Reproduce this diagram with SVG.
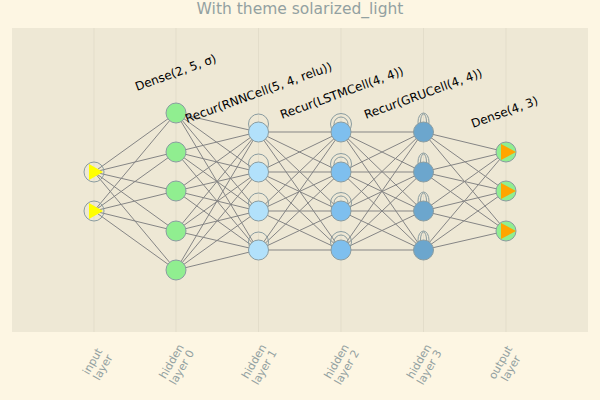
<svg xmlns="http://www.w3.org/2000/svg" width="600" height="400" viewBox="0 0 600 400">
<style>
text{font-family:"DejaVu Sans","Liberation Sans",sans-serif}
.title{font-size:15.5px;fill:#93a1a1;text-anchor:middle}
.tick{font-size:11px;fill:#93a1a1;text-anchor:middle}
.lbl{font-size:12px;fill:#000}
.grid{stroke:#e3ddca;stroke-width:1}
.edge{stroke:#858585;stroke-width:1;fill:none}
.node{stroke:#8a9ca0;stroke-width:1}
.loop{stroke:#8a9ca0;stroke-width:1;fill:none}
.in{fill:none}
.h0{fill:#90ee90}
.h1{fill:#b2e1fb}
.h2{fill:#7ebfee}
.h3{fill:#6ca6cd}
.out{fill:#90ee90}
.tri-in{fill:#ffff00}
.tri-out{fill:#ffa500}
</style>
<rect x="0" y="0" width="600" height="400" fill="#fdf6e3"/>
<rect x="12" y="28" width="576" height="304" fill="#eee8d5"/>
<g id="grid">
<line class="grid" x1="94" y1="28" x2="94" y2="332"/>
<line class="grid" x1="176" y1="28" x2="176" y2="332"/>
<line class="grid" x1="258.5" y1="28" x2="258.5" y2="332"/>
<line class="grid" x1="341" y1="28" x2="341" y2="332"/>
<line class="grid" x1="423.5" y1="28" x2="423.5" y2="332"/>
<line class="grid" x1="506" y1="28" x2="506" y2="332"/>
</g>
<text class="title" x="300" y="14">With theme solarized_light</text>
<g id="connectors">
<path class="edge" d="M94 172L176 113M94 172L176 152M94 172L176 191M94 172L176 231M94 172L176 270M94 211L176 113M94 211L176 152M94 211L176 191M94 211L176 231M94 211L176 270"/>
<path class="edge" d="M176 113L258 132M176 113L258 172M176 113L258 211M176 113L258 250M176 152L258 132M176 152L258 172M176 152L258 211M176 152L258 250M176 191L258 132M176 191L258 172M176 191L258 211M176 191L258 250M176 231L258 132M176 231L258 172M176 231L258 211M176 231L258 250M176 270L258 132M176 270L258 172M176 270L258 211M176 270L258 250"/>
<path class="edge" d="M258 132L341 132M258 132L341 172M258 132L341 211M258 132L341 250M258 172L341 132M258 172L341 172M258 172L341 211M258 172L341 250M258 211L341 132M258 211L341 172M258 211L341 211M258 211L341 250M258 250L341 132M258 250L341 172M258 250L341 211M258 250L341 250"/>
<path class="edge" d="M341 132L423 132M341 132L423 172M341 132L423 211M341 132L423 250M341 172L423 132M341 172L423 172M341 172L423 211M341 172L423 250M341 211L423 132M341 211L423 172M341 211L423 211M341 211L423 250M341 250L423 132M341 250L423 172M341 250L423 211M341 250L423 250"/>
<path class="edge" d="M423 132L506 152M423 132L506 191M423 132L506 231M423 172L506 152M423 172L506 191M423 172L506 231M423 211L506 152M423 211L506 191M423 211L506 231M423 250L506 152M423 250L506 191M423 250L506 231"/>
</g>
<g id="input-layer">
<g id="in1"><circle class="node in" cx="94" cy="172" r="10"/><polygon class="tri-in" points="89,164 89,180 103,172"/></g>
<g id="in2"><circle class="node in" cx="94" cy="211" r="10"/><polygon class="tri-in" points="89,203 89,219 103,211"/></g>
</g>
<g id="hidden-layer-0">
<circle id="h0n1" class="node h0" cx="176" cy="113" r="10"/>
<circle id="h0n2" class="node h0" cx="176" cy="152" r="10"/>
<circle id="h0n3" class="node h0" cx="176" cy="191" r="10"/>
<circle id="h0n4" class="node h0" cx="176" cy="231" r="10"/>
<circle id="h0n5" class="node h0" cx="176" cy="270" r="10"/>
</g>
<g id="hidden-layer-1">
<g id="h1n1"><circle class="loop" cx="258.5" cy="124" r="10"/><circle class="node h1" cx="258.5" cy="132" r="10"/></g>
<g id="h1n2"><circle class="loop" cx="258.5" cy="164" r="10"/><circle class="node h1" cx="258.5" cy="172" r="10"/></g>
<g id="h1n3"><circle class="loop" cx="258.5" cy="203" r="10"/><circle class="node h1" cx="258.5" cy="211" r="10"/></g>
<g id="h1n4"><circle class="loop" cx="258.5" cy="242" r="10"/><circle class="node h1" cx="258.5" cy="250" r="10"/></g>
</g>
<g id="hidden-layer-2">
<g id="h2n1"><circle class="loop" cx="341" cy="124" r="10.5"/><circle class="loop" cx="341" cy="124" r="7"/><circle class="node h2" cx="341" cy="132" r="10"/></g>
<g id="h2n2"><circle class="loop" cx="341" cy="164" r="10.5"/><circle class="loop" cx="341" cy="164" r="7"/><circle class="node h2" cx="341" cy="172" r="10"/></g>
<g id="h2n3"><circle class="loop" cx="341" cy="203" r="10.5"/><circle class="loop" cx="341" cy="203" r="7"/><circle class="node h2" cx="341" cy="211" r="10"/></g>
<g id="h2n4"><circle class="loop" cx="341" cy="242" r="10.5"/><circle class="loop" cx="341" cy="242" r="7"/><circle class="node h2" cx="341" cy="250" r="10"/></g>
</g>
<g id="hidden-layer-3">
<g id="h3n1"><ellipse class="loop" cx="423.5" cy="122" rx="5.5" ry="9"/><ellipse class="loop" cx="423.5" cy="122" rx="3" ry="8"/><circle class="node h3" cx="423.5" cy="132" r="10"/></g>
<g id="h3n2"><ellipse class="loop" cx="423.5" cy="162" rx="5.5" ry="9"/><ellipse class="loop" cx="423.5" cy="162" rx="3" ry="8"/><circle class="node h3" cx="423.5" cy="172" r="10"/></g>
<g id="h3n3"><ellipse class="loop" cx="423.5" cy="201" rx="5.5" ry="9"/><ellipse class="loop" cx="423.5" cy="201" rx="3" ry="8"/><circle class="node h3" cx="423.5" cy="211" r="10"/></g>
<g id="h3n4"><ellipse class="loop" cx="423.5" cy="240" rx="5.5" ry="9"/><ellipse class="loop" cx="423.5" cy="240" rx="3" ry="8"/><circle class="node h3" cx="423.5" cy="250" r="10"/></g>
</g>
<g id="output-layer">
<g id="out1"><circle class="node out" cx="506" cy="152" r="10"/><polygon class="tri-out" points="501,144 501,160 516,152"/></g>
<g id="out2"><circle class="node out" cx="506" cy="191" r="10"/><polygon class="tri-out" points="501,183 501,199 516,191"/></g>
<g id="out3"><circle class="node out" cx="506" cy="231" r="10"/><polygon class="tri-out" points="501,223 501,239 516,231"/></g>
</g>
<g id="layer-labels">
<text class="lbl" transform="translate(137,91) rotate(-20)">Dense(2, 5, σ)</text>
<text class="lbl" transform="translate(187,123) rotate(-20)">Recur(RNNCell(5, 4, relu))</text>
<text class="lbl" transform="translate(282,119) rotate(-20)">Recur(LSTMCell(4, 4))</text>
<text class="lbl" transform="translate(366,119) rotate(-20)">Recur(GRUCell(4, 4))</text>
<text class="lbl" transform="translate(473,128) rotate(-20)">Dense(4, 3)</text>
</g>
<g id="tick-labels">
<g transform="translate(97,364) rotate(-60)"><text class="tick" y="-1.5">input</text><text class="tick" y="10.5">layer</text></g>
<g transform="translate(176,364) rotate(-60)"><text class="tick" y="-1.5">hidden</text><text class="tick" y="10.5">layer 0</text></g>
<g transform="translate(258.5,364) rotate(-60)"><text class="tick" y="-1.5">hidden</text><text class="tick" y="10.5">layer 1</text></g>
<g transform="translate(341,364) rotate(-60)"><text class="tick" y="-1.5">hidden</text><text class="tick" y="10.5">layer 2</text></g>
<g transform="translate(423.5,364) rotate(-60)"><text class="tick" y="-1.5">hidden</text><text class="tick" y="10.5">layer 3</text></g>
<g transform="translate(505,365) rotate(-60)"><text class="tick" y="-1.5">output</text><text class="tick" y="10.5">layer</text></g>
</g>
</svg>
